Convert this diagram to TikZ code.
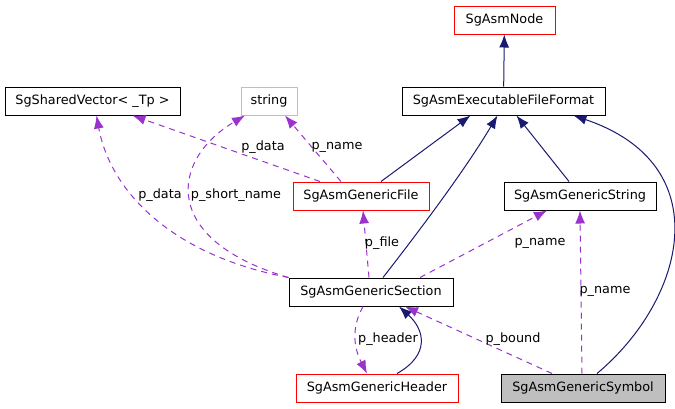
\documentclass[tikz,border=0pt]{standalone}
\usepackage{fontspec}
\setmainfont{DejaVu Sans}
\usetikzlibrary{arrows.meta,positioning}
\definecolor{navy}{HTML}{191970}
\definecolor{orchid}{HTML}{9A32CD}
\definecolor{boxred}{HTML}{FF0000}
\definecolor{boxgray}{HTML}{BFBFBF}
\tikzset{
  cls/.style={draw=black,line width=1pt,minimum height=28pt,inner sep=0pt,font=\fontsize{12.8}{14}\selectfont},
  redcls/.style={cls,draw=boxred},
  greycls/.style={cls,draw=boxgray},
  inh/.style={-{Latex[length=13pt,width=10pt]},color=navy,line width=1pt},
  use/.style={-{Latex[length=13pt,width=10pt]},color=orchid,line width=1pt,dash pattern=on 6pt off 5pt},
  lbl/.style={inner sep=1pt,font=\fontsize{12.8}{14}\selectfont}
}

\begin{document}
\begin{tikzpicture}[x=1pt,y=-1pt]
  \useasboundingbox (0,0) rectangle (675,408);
  % classes
  \node[redcls,minimum width=101pt] (asmnode) at (504.5,20) {SgAsmNode};
  \node[cls,minimum width=203pt] (exe) at (503.5,101) {SgAsmExecutableFileFormat};
  \node[cls,minimum width=175pt] (vec) at (92.5,101) {SgSharedVector< \_Tp >};
  \node[greycls,minimum width=56pt] (str) at (269,101) {string};
  \node[redcls,minimum width=136pt] (file) at (361,196) {SgAsmGenericFile};
  \node[cls,minimum width=152pt] (gstr) at (580,196) {SgAsmGenericString};
  \node[cls,minimum width=164pt] (sec) at (371,292) {SgAsmGenericSection};
  \node[redcls,minimum width=162pt] (hdr) at (377,388) {SgAsmGenericHeader};
  \node[cls,fill=boxgray,minimum width=164pt] (sym) at (583,388) {SgAsmGenericSymbol};

  % inheritance
  \draw[inh] (exe) -- (asmnode);
  \draw[inh] ([xshift=20pt]file.north) -- ([xshift=-33pt]exe.south);
  \draw[inh] ([xshift=12pt]sec.north) .. controls (420,230) and (465,170) .. ([xshift=-6pt]exe.south);
  \draw[inh] ([xshift=-11pt]gstr.north) -- ([xshift=13pt]exe.south);
  \draw[inh] ([xshift=14pt]sym.north) .. controls (685,300) and (720,165) .. ([xshift=70pt]exe.south);
  \draw[inh] ([xshift=20pt]hdr.north) .. controls (430,355) and (425,330) .. ([xshift=28pt]sec.south);

  % members
  \draw[use] ([xshift=-41pt]file.north) -- ([xshift=40pt]vec.south);
  \draw[use] (sec.north west) .. controls (170,255) and (110,190) .. ([xshift=4pt]vec.south);
  \draw[use] (sec.north west) .. controls (160,240) and (170,160) .. ([xshift=-24pt]str.south);
  \draw[use] ([xshift=-20pt]file.north) -- ([xshift=16pt]str.south);
  \draw[use] ([xshift=-2pt]sec.north) -- ([xshift=2pt]file.south);
  \draw[use] ([xshift=49pt]sec.north) -- ([xshift=-33pt]gstr.south);
  \draw[use] ([xshift=-1pt]sym.north) -- (gstr.south);
  \draw[use] ([xshift=-31pt]sym.north) -- ([xshift=34pt]sec.south);
  \draw[use] ([xshift=-8pt]sec.south) .. controls (350,330) and (355,350) .. ([xshift=-10pt]hdr.north);

  % member names
  \node[lbl,fill=white] (l1) at (263,147) {p\_data};
  \node[lbl,fill=white] (l2) at (160,195) {p\_data};
  \node[lbl,fill=white] (l3) at (236,195) {p\_short\_name};
  \node[lbl] (l4) at (337,147) {p\_name};
  \node[lbl] (l5) at (382,243) {p\_file};
  \node[lbl] (l6) at (540,243) {p\_name};
  \node[lbl] (l7) at (605,291) {p\_name};
  \node[lbl] (l8) at (513,339) {p\_bound};
  \node[lbl] (l9) at (388,339) {p\_header};
\end{tikzpicture}
\end{document}
